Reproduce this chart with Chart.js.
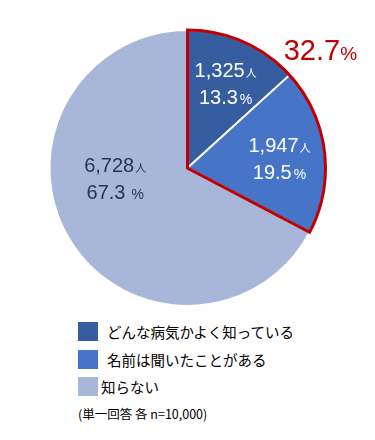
<!DOCTYPE html>
<html lang="ja">
<head>
<meta charset="utf-8">
<script src="https://cdn.jsdelivr.net/npm/chart.js@4/dist/chart.umd.min.js"></script>
<style>
  body { margin: 0; background: #fff; font-family: "Liberation Sans", Arial, "Noto Sans CJK JP", sans-serif; }
  #wrap { position: relative; width: 375px; height: 440px; }
  #chartBox { position: absolute; left: 0; top: 0; width: 375px; height: 312px; }
  #legend { position: absolute; left: 78px; top: 318px; }
  .row { display: flex; align-items: center; height: 27.5px; font-size: 14.5px; color: #000; font-family: "Noto Sans CJK JP", sans-serif; }
  .sw { width: 20px; height: 19px; margin-right: 9px; }
  #note { position: absolute; left: 78px; top: 404px; font-size: 12.5px; color: #000; font-family: "Noto Sans CJK JP", sans-serif; }
</style>
</head>
<body>
<div id="wrap">
  <div id="chartBox"><canvas id="pie"></canvas></div>
  <div id="legend"></div>
  <div id="note">(単一回答 各 n=10,000)</div>
</div>
<script>
const CATEGORIES = ['どんな病気かよく知っている', '名前は聞いたことがある', '知らない'];
const COUNTS = [1325, 1947, 6728];
const TOTAL = 10000;
const COLORS = ['#355d9f', '#4675c8', '#a8b6da'];
const LABEL_COLORS = ['#ffffff', '#ffffff', '#1f3557'];
// label placement: fraction of radius and angle shift (deg) from slice middle
const LABEL_POS = [[0.67, 0.5], [0.67, 1.5], [0.53, 22.4]];
const HIGHLIGHT = [0, 1];

const pct = v => (Math.round(v / TOTAL * 1000) / 10).toFixed(1);

const labelPlugin = {
  id: 'sliceLabels',
  afterDatasetsDraw(chart) {
    const ctx = chart.ctx;
    const meta = chart.getDatasetMeta(0);
    // red outline around the highlighted slices
    const a0 = meta.data[HIGHLIGHT[0]];
    const a1 = meta.data[HIGHLIGHT[HIGHLIGHT.length - 1]];
    ctx.save();
    ctx.beginPath();
    ctx.moveTo(a0.x, a0.y);
    ctx.arc(a0.x, a0.y, a0.outerRadius, a0.startAngle, a1.endAngle);
    ctx.closePath();
    ctx.strokeStyle = '#c00000';
    ctx.lineWidth = 3;
    ctx.lineJoin = 'miter';
    ctx.stroke();

    ctx.textBaseline = 'alphabetic';
    meta.data.forEach((arc, i) => {
      const mid = (arc.startAngle + arc.endAngle) / 2 + LABEL_POS[i][1] * Math.PI / 180;
      const r = arc.outerRadius * LABEL_POS[i][0];
      const x = arc.x + Math.cos(mid) * r;
      const y = arc.y + Math.sin(mid) * r;
      ctx.fillStyle = LABEL_COLORS[i];
      drawPair(ctx, x, y - 7, COUNTS[i].toLocaleString('en-US'), '人', 20, 11, 1);
      drawPair(ctx, x, y + 20, pct(COUNTS[i]), i === 2 ? ' %' : '%', 20, 14, 2);
    });

    // total of highlighted slices
    const sum = HIGHLIGHT.reduce((s, i) => s + COUNTS[i], 0);
    const ang = a0.startAngle + (a1.endAngle - a0.startAngle) * 0.41;
    const tx = a0.x + Math.cos(ang) * (a0.outerRadius + 40);
    const ty = a0.y + Math.sin(ang) * (a0.outerRadius + 40);
    ctx.fillStyle = '#c00000';
    drawPair(ctx, tx, ty + 10, pct(sum), '%', 29, 19, 0);
    ctx.restore();
  }
};

function drawPair(ctx, cx, y, big, small, bigSize, smallSize, gap) {
  const fam = '"Liberation Sans", Arial, "Noto Sans CJK JP", sans-serif';
  ctx.font = bigSize + 'px ' + fam;
  const w1 = ctx.measureText(big).width;
  ctx.font = smallSize + 'px ' + fam;
  const w2 = ctx.measureText(small).width;
  const start = cx - (w1 + gap + w2) / 2;
  ctx.textAlign = 'left';
  ctx.font = bigSize + 'px ' + fam;
  ctx.fillText(big, start, y);
  ctx.font = smallSize + 'px ' + fam;
  ctx.fillText(small, start + w1 + gap, y);
}

new Chart(document.getElementById('pie'), {
  type: 'pie',
  data: {
    labels: CATEGORIES,
    datasets: [{
      data: COUNTS,
      backgroundColor: COLORS,
      borderColor: '#ffffff',
      borderWidth: 2,
      borderJoinStyle: 'miter',
    }],
  },
  options: {
    responsive: true,
    maintainAspectRatio: false,
    animation: false,
    layout: { padding: { top: 29, bottom: 5, left: 0, right: 0 } },
    plugins: { legend: { display: false }, tooltip: { enabled: false } },
  },
  plugins: [labelPlugin],
});

document.getElementById('legend').innerHTML = CATEGORIES.map((c, i) =>
  `<div class="row"><div class="sw" style="background:${COLORS[i]}${i === 2 ? ';margin-right:3px' : ''}"></div>${c}</div>`
).join('');
</script>
</body>
</html>
